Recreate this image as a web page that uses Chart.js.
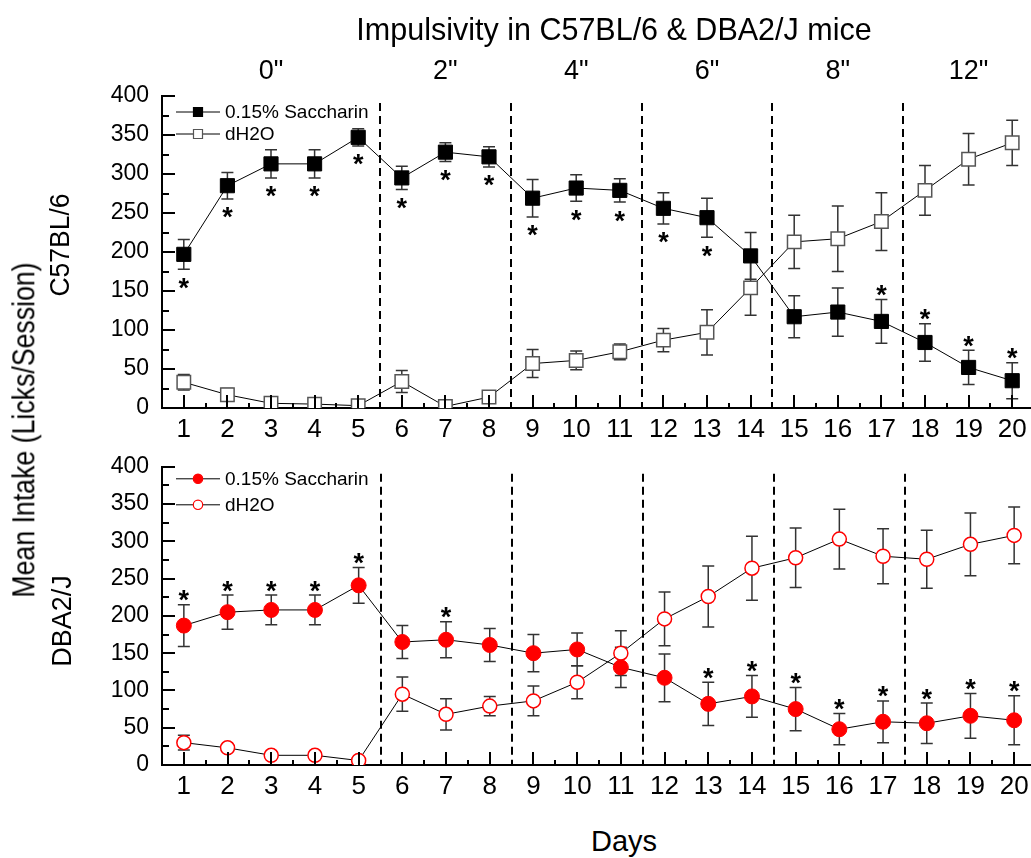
<!DOCTYPE html>
<html><head><meta charset="utf-8">
<script src="https://cdn.jsdelivr.net/npm/chart.js@4.4.1/dist/chart.umd.min.js"></script>
<style>
html,body{margin:0;padding:0;background:#fff;width:1031px;height:858px;overflow:hidden;position:relative;font-family:"Liberation Sans",Arial,sans-serif;}
canvas{position:absolute;left:0;}
#c1{top:0;}
#c2{top:440px;}
.t{position:absolute;white-space:nowrap;color:#000;line-height:1;font-family:"Liberation Sans",Arial,sans-serif;}
</style></head><body>
<canvas id="c1" width="1045" height="440"></canvas>
<canvas id="c2" width="1045" height="360"></canvas>
<script>
// ---------- data ----------
const days = [1,2,3,4,5,6,7,8,9,10,11,12,13,14,15,16,17,18,19,20];
const c57Sacc    = [197,285,313,313,347,295,328,322,269,282,279,256,244,195,117,123,111,84,52,35];
const c57SaccErr = [19,17,18,18,11,15,12,13,24,17,15,20,25,30,27,31,28,24,22,23];
const c57Water    = [33,17,6,5,3,34,2,14,57,61,72,87,97,154,213,217,239,279,319,340];
const c57WaterErr = [10,8,4,4,3,14,2,5,18,12,10,15,29,35,34,42,37,32,33,29];
const dbaSacc    = [187,205,208,208,241,165,168,161,150,155,131,117,82,92,75,48,58,56,66,60];
const dbaSaccErr = [28,23,20,20,24,22,24,22,25,22,27,32,29,28,29,21,28,27,30,33];
const dbaWater    = [30,23,13,13,6,95,68,79,86,111,150,196,226,264,278,303,280,276,296,308];
const dbaWaterErr = [10,5,4,4,4,23,21,13,20,22,30,36,41,43,40,40,37,39,42,38];
const c57StarBelow = [1,2,3,4,5,6,7,8,9,10,11,12,13];
const c57StarAbove = [17,18,19,20];
const dbaStarAbove = [1,2,3,4,5,7,13,14,15,16,17,18,19,20];
const dividers = [5.5,8.5,11.5,14.5,17.5];
const groupLabels = ['0"','2"','4"','6"','8"','12"'];
const groupCenters = [3,7,10,13,16,19];
const yTicks = [0,50,100,150,200,250,300,350,400];
const seriesNames = ['0.15% Saccharin','dH2O'];
const FONT = '"Liberation Sans", Arial, sans-serif';

function pts(vals){ return days.map((d,i)=>({x:d,y:vals[i]})); }

function drawMarker(ctx, style, x, y, r, fill, stroke, lw){
  ctx.save();
  ctx.fillStyle = fill; ctx.strokeStyle = stroke; ctx.lineWidth = lw;
  ctx.beginPath();
  if(style==='rect'){ ctx.rect(x-r, y-r, 2*r, 2*r); }
  else { ctx.arc(x, y, r, 0, Math.PI*2); }
  ctx.fill(); ctx.stroke();
  ctx.restore();
}

function drawStar(ctx, x, cy){
  ctx.save();
  ctx.font = 'bold 27px ' + FONT;
  ctx.textAlign = 'center'; ctx.textBaseline = 'alphabetic';
  ctx.fillStyle = '#000';
  const m = ctx.measureText('*');
  const A = m.actualBoundingBoxAscent, D = m.actualBoundingBoxDescent;
  ctx.fillText('*', x, cy + (A - D)/2);
  ctx.restore();
}

const deco = {
  id: 'deco',
  beforeDatasetsDraw(chart){
    const {ctx, chartArea:a, scales:{x, y}} = chart;
    ctx.save();
    ctx.strokeStyle = '#000'; ctx.lineWidth = 2; ctx.setLineDash([8,5]);
    dividers.forEach(d => {
      const px = Math.round(x.getPixelForValue(d));
      ctx.beginPath(); ctx.moveTo(px, a.top + 7); ctx.lineTo(px, a.bottom); ctx.stroke();
    });
    ctx.setLineDash([]);
    chart.data.datasets.forEach(ds => {
      ctx.strokeStyle = '#333'; ctx.lineWidth = 1.5;
      ds.data.forEach((p, i) => {
        const e = ds.errors[i];
        const px = x.getPixelForValue(p.x);
        const y1 = y.getPixelForValue(p.y + e);
        const y2 = y.getPixelForValue(Math.max(p.y - e, 0));
        ctx.beginPath();
        ctx.moveTo(px, y1); ctx.lineTo(px, y2);
        ctx.moveTo(px - 6, y1); ctx.lineTo(px + 6, y1);
        ctx.moveTo(px - 6, y2); ctx.lineTo(px + 6, y2);
        ctx.stroke();
      });
    });
    ctx.restore();
  },
  afterDraw(chart, args, opts){
    const {ctx, chartArea:a, scales:{x, y}} = chart;
    ctx.save();
    ctx.strokeStyle = '#000';
    ctx.lineWidth = 2;
    for(let v = 0; v <= 400; v += 25){
      const py = Math.round(y.getPixelForValue(v));
      const len = (v % 50 === 0) ? 13 : 7;
      ctx.beginPath(); ctx.moveTo(a.left, py); ctx.lineTo(a.left + len, py); ctx.stroke();
    }
    for(let v = 0.5; v <= 20.5; v += 0.5){
      const px = Math.round(x.getPixelForValue(v));
      const len = Number.isInteger(v) ? 13 : 5;
      ctx.beginPath(); ctx.moveTo(px, a.bottom); ctx.lineTo(px, a.bottom - len); ctx.stroke();
    }
    const ds0 = chart.data.datasets[0];
    (opts.starsBelow || []).forEach(d => {
      const i = days.indexOf(d);
      const py = y.getPixelForValue(ds0.data[i].y - ds0.errors[i]);
      drawStar(ctx, x.getPixelForValue(d), py + 14);
    });
    (opts.starsAbove || []).forEach(d => {
      const i = days.indexOf(d);
      const py = y.getPixelForValue(ds0.data[i].y + ds0.errors[i]);
      drawStar(ctx, x.getPixelForValue(d), py - 9);
    });
    chart.data.datasets.forEach((ds, k) => {
      const ly = a.top + opts.legendY[k];
      ctx.strokeStyle = '#000'; ctx.lineWidth = 1;
      ctx.beginPath(); ctx.moveTo(176, ly); ctx.lineTo(220, ly); ctx.stroke();
      drawMarker(ctx, ds.pointStyle, 198, ly, ds.pointStyle === 'rect' ? 4.5 : 4.7,
                 ds.pointBackgroundColor, ds.pointBorderColor, 1.2);
      ctx.fillStyle = '#000';
      ctx.font = '19px ' + FONT;
      ctx.textAlign = 'left'; ctx.textBaseline = 'middle';
      ctx.fillText(ds.label, 225, ly + 1);
    });
    ctx.restore();
  }
};

function makeChart(id, datasets, padTop, xHeight, opts){
  return new Chart(document.getElementById(id), {
    type: 'line',
    data: { datasets },
    options: {
      responsive: false, animation: false, events: [],
      layout: { padding: { top: padTop, right: 9, left: 0, bottom: 0 } },
      plugins: { legend: { display: false }, tooltip: { enabled: false }, deco: opts },
      scales: {
        x: {
          type: 'linear', min: 0.5, max: 20.5,
          afterBuildTicks: s => { s.ticks = days.map(v => ({ value: v })); },
          afterFit: s => { s.height = xHeight; },
          grid: { display: false, drawTicks: false },
          border: { display: true, color: '#000', width: 2 },
          ticks: { color: '#000', font: { size: 26, family: FONT }, padding: 6, maxRotation: 0, autoSkip: false }
        },
        y: {
          min: 0, max: 400,
          afterBuildTicks: s => { s.ticks = yTicks.map(v => ({ value: v })); },
          afterFit: s => { s.width = 162; },
          grid: { display: false, drawTicks: false },
          border: { display: true, color: '#000', width: 2 },
          ticks: { color: '#000', font: { size: 23, family: FONT }, padding: 13 }
        }
      }
    },
    plugins: [deco]
  });
}

const chart1 = makeChart('c1', [
  { label: seriesNames[0], data: pts(c57Sacc), errors: c57SaccErr, borderColor: '#000', borderWidth: 1,
    pointStyle: 'rect', pointRadius: 10, pointBackgroundColor: '#000', pointBorderColor: '#000', pointBorderWidth: 1 },
  { label: seriesNames[1], data: pts(c57Water), errors: c57WaterErr, borderColor: '#000', borderWidth: 1,
    pointStyle: 'rect', pointRadius: 9.5, pointBackgroundColor: '#fff', pointBorderColor: '#555', pointBorderWidth: 1.5 }
], 96, 32, { starsBelow: c57StarBelow, starsAbove: c57StarAbove, legendY: [16, 38] });

const chart2 = makeChart('c2', [
  { label: seriesNames[0], data: pts(dbaSacc), errors: dbaSaccErr, borderColor: '#000', borderWidth: 1,
    pointStyle: 'circle', pointRadius: 7.5, pointBackgroundColor: '#ff0000', pointBorderColor: '#ff0000', pointBorderWidth: 1 },
  { label: seriesNames[1], data: pts(dbaWater), errors: dbaWaterErr, borderColor: '#000', borderWidth: 1,
    pointStyle: 'circle', pointRadius: 7, pointBackgroundColor: '#fff', pointBorderColor: '#ff0000', pointBorderWidth: 1.5 }
], 13, 35, { starsBelow: [], starsAbove: dbaStarAbove, legendY: [12, 38] });

function place(text, cx, cy, size, rot, sx, sy){
  const d = document.createElement('div');
  d.className = 't';
  d.textContent = text;
  d.style.fontSize = size + 'px';
  d.style.left = cx + 'px'; d.style.top = cy + 'px';
  d.style.transform = 'translate(-50%,-50%)' + (rot ? ' rotate(-90deg)' : '') + ' scale(' + (sx||1) + ',' + (sy||1) + ')';
  document.body.appendChild(d);
}
place('Impulsivity in C57BL/6 & DBA2/J mice', 614, 29, 30.5);
groupLabels.forEach((t, i) => place(t, chart1.scales.x.getPixelForValue(groupCenters[i]), 70, 27));
place('Days', 624, 841, 29);
place('Mean Intake (Licks/Session)', 24, 430, 26.7, true, 1, 1.15);
place('C57BL/6', 60, 245, 26.5, true, 1, 1.05);
place('DBA2/J', 62, 621, 27, true, 1, 1.05);
</script>
</body></html>
